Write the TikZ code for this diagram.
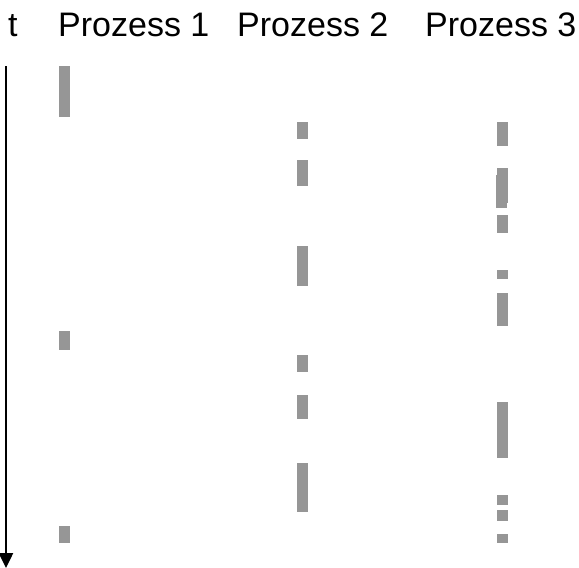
\documentclass[tikz,border=0pt]{standalone}
\usepackage{fontspec}
\setmainfont{Liberation Sans}
\usetikzlibrary{arrows.meta}
\definecolor{barGray}{RGB}{150,150,150}
\tikzset{
  bar/.style={fill=barGray},
  head/.style={anchor=base west, inner sep=0pt, font=\fontsize{34}{40}\selectfont}
}
\begin{document}
\begin{tikzpicture}[x=1pt,y=-1pt]
  \useasboundingbox (0,0) rectangle (579,568);
  % labels
  \node[head] (t) at (8,36) {t};
  \node[head] (p1) at (58,36) {Prozess 1};
  \node[head] (p2) at (237,36) {Prozess 2};
  \node[head] (p3) at (425,36) {Prozess 3};
  % time axis
  \coordinate (tstart) at (6,66);
  \coordinate (tend) at (6,568);
  \draw[line width=2.5pt,-{Triangle[width=14pt,length=15pt]}] (tstart) -- (tend);
  % Prozess 1
  \fill[bar] (59,66) rectangle (70,117);
  \fill[bar] (59,331) rectangle (70,350);
  \fill[bar] (59,526) rectangle (70,543);
  % Prozess 2
  \fill[bar] (297,122) rectangle (308,139);
  \fill[bar] (297,160) rectangle (308,186);
  \fill[bar] (297,246) rectangle (308,286);
  \fill[bar] (297,355) rectangle (308,372);
  \fill[bar] (297,395) rectangle (308,419);
  \fill[bar] (297,463) rectangle (308,512);
  % Prozess 3
  \fill[bar] (497,122) rectangle (508,146);
  \fill[bar] (497,168) rectangle (508,203);
  \fill[bar] (496,175) rectangle (507,208);
  \fill[bar] (497,215) rectangle (508,233);
  \fill[bar] (497,270) rectangle (508,279);
  \fill[bar] (497,293) rectangle (508,326);
  \fill[bar] (497,402) rectangle (508,458);
  \fill[bar] (497,495) rectangle (508,505);
  \fill[bar] (497,510) rectangle (508,521);
  \fill[bar] (497,534) rectangle (508,543);
\end{tikzpicture}
\end{document}
